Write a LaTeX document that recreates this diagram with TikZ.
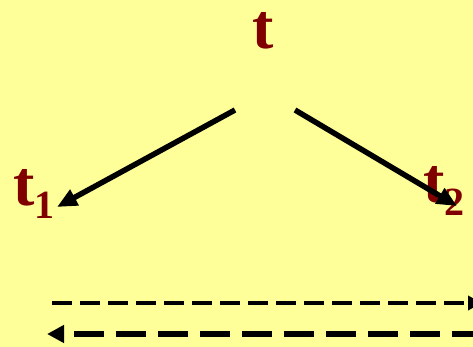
\documentclass[tikz,border=0pt]{standalone}
\usepackage{fontspec}
\setmainfont{Liberation Serif}
\usetikzlibrary{arrows.meta}
\definecolor{bgyellow}{HTML}{FFFF99}
\definecolor{darkred}{HTML}{800000}
\newcommand{\subnum}[1]{\raisebox{-13pt}{\fontsize{40}{40}\selectfont #1}}
\begin{document}
\begin{tikzpicture}[x=1pt,y=-1pt,
  lbl/.style={inner sep=0pt, text=darkred, font=\fontsize{64}{64}\selectfont\bfseries},
  bigarrow/.style={line width=5.5pt, -{Triangle[length=20pt,width=17pt]}},
  fwdline/.style={line width=4pt, dash pattern=on 20pt off 8pt, -{Triangle[length=14pt,width=14pt]}},
  backline/.style={line width=6pt, dash pattern=on 30pt off 12pt, -{Triangle[length=17pt,width=17pt]}}]
  \fill[bgyellow] (0,0) rectangle (473,347);
  \useasboundingbox (0,0) rectangle (473,347);
  \node[lbl, anchor=base] (t) at (263,49) {t};
  \node[lbl, anchor=base west] (t1) at (13,206) {t\subnum{1}};
  \node[lbl, anchor=base west] (t2) at (423,203) {t\subnum{2}};
  \coordinate (s1) at (235,110);
  \coordinate (e1) at (57,207);
  \coordinate (s2) at (295,110);
  \coordinate (e2) at (457,206);
  \draw[bigarrow] (s1) -- (e1);
  \draw[bigarrow] (s2) -- (e2);
  \coordinate (f1) at (52,303);
  \coordinate (f2) at (482,303);
  \coordinate (b1) at (482,334);
  \coordinate (b2) at (47,334);
  \draw[fwdline] (f1) -- (f2);
  \draw[backline] (b1) -- (b2);
\end{tikzpicture}
\end{document}
